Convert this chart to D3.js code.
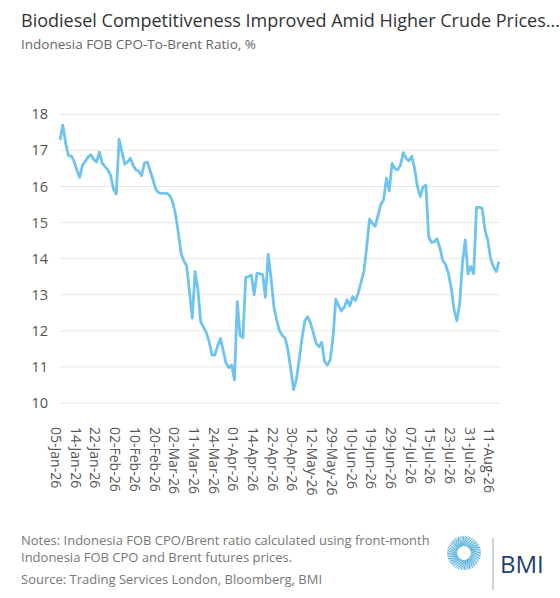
<!DOCTYPE html>
<html>
<head>
<meta charset="utf-8">
<script src="https://cdn.jsdelivr.net/npm/d3@7"></script>
<style>
  body { margin: 0; background: #fff; }
  svg { display: block; font-family: "Open Sans", sans-serif; }
</style>
</head>
<body>
<svg id="chart" width="560" height="598"></svg>
<script>
// tick labels shown every 7th trading day
const tickLabels = [
    '05-Jan-26', '14-Jan-26', '22-Jan-26', '02-Feb-26', '10-Feb-26', '20-Feb-26',
    '02-Mar-26', '11-Mar-26', '24-Mar-26', '01-Apr-26', '14-Apr-26', '22-Apr-26',
    '30-Apr-26', '12-May-26', '29-May-26', '10-Jun-26', '19-Jun-26', '29-Jun-26',
    '07-Jul-26', '15-Jul-26', '23-Jul-26', '31-Jul-26', '11-Aug-26'
];
const tickStep = 7;

const yTicks = [10, 11, 12, 13, 14, 15, 16, 17, 18];

// CPO-to-Brent ratio, %, one value per trading day
const ratio = [
    17.29, 17.70, 17.20, 16.85, 16.85, 16.70, 16.45, 16.25, 16.60, 16.70,
    16.82, 16.88, 16.75, 16.68, 16.95, 16.65, 16.55, 16.46, 16.30, 15.93,
    15.79, 17.31, 16.96, 16.62, 16.68, 16.78, 16.58, 16.46, 16.42, 16.30,
    16.65, 16.68, 16.45, 16.20, 15.93, 15.83, 15.81, 15.81, 15.81, 15.75,
    15.58, 15.25, 14.75, 14.15, 13.94, 13.80, 13.10, 12.35, 13.64, 13.15,
    12.25, 12.10, 11.95, 11.70, 11.33, 11.33, 11.58, 11.79, 11.45, 11.10,
    10.98, 11.05, 10.64, 12.81, 11.86, 11.81, 13.48, 13.50, 13.55, 13.00,
    13.60, 13.58, 13.56, 12.93, 14.12, 13.45, 12.67, 12.30, 12.00, 11.87,
    11.80, 11.47, 10.95, 10.37, 10.65, 11.20, 11.80, 12.28, 12.39, 12.22,
    11.95, 11.65, 11.56, 11.68, 11.15, 11.05, 11.19, 11.80, 12.88, 12.70,
    12.55, 12.65, 12.86, 12.69, 12.95, 12.84, 13.05, 13.35, 13.65, 14.33,
    15.10, 14.98, 14.90, 15.20, 15.50, 15.63, 16.23, 15.88, 16.64, 16.50,
    16.46, 16.60, 16.94, 16.78, 16.71, 16.84, 16.50, 16.00, 15.72, 15.98,
    16.04, 14.61, 14.45, 14.47, 14.55, 14.30, 13.95, 13.84, 13.60, 13.20,
    12.60, 12.28, 12.72, 13.87, 14.52, 13.58, 13.78, 13.58, 15.42, 15.42,
    15.40, 14.80, 14.52, 14.00, 13.78, 13.64, 13.92
];

const svg = d3.select('#chart');

const x = d3.scaleLinear()
    .domain([0, ratio.length - 1])
    .range([60, 499]);

const y = d3.scaleLinear()
    .domain([10, 18])
    .range([403, 114.3]);

// titles
svg.append('text')
    .attr('x', 21)
    .attr('y', 27)
    .style('font-size', '18px')
    .attr('fill', '#333')
    .text('Biodiesel Competitiveness Improved Amid Higher Crude Prices...');

svg.append('text')
    .attr('x', 21)
    .attr('y', 49)
    .style('font-size', '13.5px')
    .attr('fill', '#666')
    .text('Indonesia FOB CPO-To-Brent Ratio, %');

// gridlines + y labels
const yAxis = svg.append('g');
yAxis.selectAll('line')
    .data(yTicks)
    .enter()
    .append('line')
    .attr('x1', 60)
    .attr('x2', 500)
    .attr('y1', d => y(d))
    .attr('y2', d => y(d))
    .attr('stroke', '#e8e8e8')
    .attr('stroke-width', 1);

yAxis.selectAll('text')
    .data(yTicks)
    .enter()
    .append('text')
    .attr('x', 48)
    .attr('y', d => y(d))
    .attr('dy', '0.35em')
    .attr('text-anchor', 'end')
    .style('font-size', '14.5px')
    .attr('fill', '#555')
    .text(d => d);

// x labels, rotated
svg.append('g')
    .selectAll('text')
    .data(tickLabels)
    .enter()
    .append('text')
    .attr('transform', (d, i) => `translate(${x(i * tickStep) - 4},427) rotate(90)`)
    .attr('dy', '0.35em')
    .style('font-size', '14px')
    .attr('fill', '#555')
    .text(d => d);

// the series
const line = d3.line()
    .x((d, i) => x(i))
    .y(d => y(d));

svg.append('path')
    .datum(ratio)
    .attr('d', line)
    .attr('fill', 'none')
    .attr('stroke', '#6ec4ef')
    .attr('stroke-width', 2.8)
    .attr('stroke-linejoin', 'round');

// footer
const notes = [
    { t: 'Notes: Indonesia FOB CPO/Brent ratio calculated using front-month', y: 545 },
    { t: 'Indonesia FOB CPO and Brent futures prices.', y: 562 },
    { t: 'Source: Trading Services London, Bloomberg, BMI', y: 584 }
];
svg.append('g')
    .selectAll('text')
    .data(notes)
    .enter()
    .append('text')
    .attr('x', 21)
    .attr('y', d => d.y)
    .style('font-size', '13px')
    .attr('fill', '#777')
    .text(d => d.t);

// BMI logo: sunburst ring, divider, wordmark
const logo = svg.append('g').attr('transform', 'translate(464,553)');
logo.selectAll('line')
    .data(d3.range(72))
    .enter()
    .append('line')
    .attr('x1', d => Math.cos(d / 72 * 2 * Math.PI) * 7)
    .attr('y1', d => Math.sin(d / 72 * 2 * Math.PI) * 7)
    .attr('x2', d => Math.cos(d / 72 * 2 * Math.PI + 0.35) * 17)
    .attr('y2', d => Math.sin(d / 72 * 2 * Math.PI + 0.35) * 17)
    .attr('stroke', (d, i) => i % 2 ? '#7ccbe9' : '#2a8fc8')
    .attr('stroke-width', 0.8);

svg.append('line')
    .attr('x1', 493).attr('x2', 493)
    .attr('y1', 538).attr('y2', 590)
    .attr('stroke', '#9ab')
    .attr('stroke-width', 1);

svg.append('text')
    .attr('x', 500)
    .attr('y', 573)
    .style('font-size', '24px')
    .attr('fill', '#1d3f73')
    .text('BMI');
</script>
</body>
</html>
